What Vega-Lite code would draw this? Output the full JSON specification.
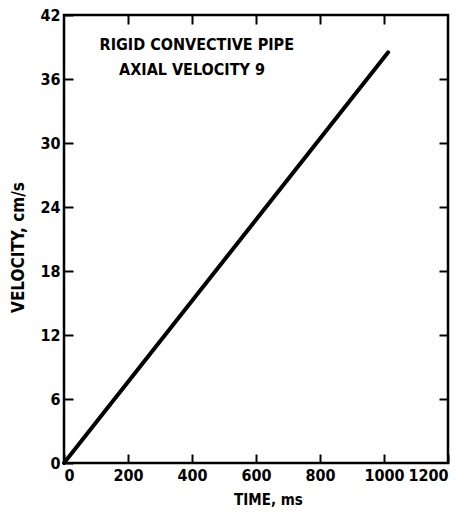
{
  "$schema": "https://vega.github.io/schema/vega-lite/v6.json",
  "width": 384,
  "height": 448,
  "autosize": {"type": "none"},
  "padding": {"left": 64, "top": 15, "right": 22, "bottom": 54},
  "background": "white",
  "config": {
    "view": {"stroke": "black", "strokeWidth": 2.5},
    "font": "DejaVu Sans Condensed",
    "axis": {
      "domain": false,
      "grid": false,
      "ticks": true,
      "tickColor": "black",
      "tickWidth": 2,
      "tickSize": 9,
      "offset": -9,
      "labelFont": "DejaVu Sans Condensed",
      "labelFontWeight": "bold",
      "labelFontSize": 16,
      "labelColor": "black",
      "titleFont": "DejaVu Sans Condensed",
      "titleFontWeight": "bold",
      "titleFontSize": 15,
      "titleColor": "black"
    }
  },
  "data": {
    "values": [
      {"time": 0, "velocity": 0},
      {"time": 1013, "velocity": 38.5}
    ]
  },
  "layer": [
    {
      "mark": {"type": "line", "color": "black", "strokeWidth": 4, "strokeCap": "round"},
      "encoding": {
        "x": {
          "field": "time", "type": "quantitative",
          "scale": {"domain": [0, 1200], "nice": false},
          "axis": {"orient": "bottom", "values": [0, 200, 400, 600, 800, 1000, 1200], "format": "d", "title": "TIME, ms", "labelPadding": 4, "titlePadding": 9, "titleX": 204}
        },
        "y": {
          "field": "velocity", "type": "quantitative",
          "scale": {"domain": [0, 42], "nice": false},
          "axis": {"orient": "left", "values": [0, 6, 12, 18, 24, 30, 36, 42], "format": "d", "title": "VELOCITY, cm/s", "titleFontSize": 17, "labelPadding": 4, "titlePadding": 12, "titleY": 232}
        }
      }
    },
    {
      "mark": {"type": "line", "opacity": 0},
      "encoding": {
        "x": {
          "field": "time", "type": "quantitative",
          "scale": {"domain": [0, 1200], "nice": false},
          "axis": {"orient": "top", "values": [200, 400, 600, 800, 1000], "labels": false, "title": null}
        },
        "y": {
          "field": "velocity", "type": "quantitative",
          "scale": {"domain": [0, 42], "nice": false},
          "axis": {"orient": "right", "values": [6, 12, 18, 24, 30, 36], "labels": false, "title": null}
        }
      }
    },
    {
      "data": {"values": [{"line": "RIGID CONVECTIVE PIPE", "t": 415, "v": 39.2}, {"line": "AXIAL VELOCITY 9", "t": 400, "v": 36.85}]},
      "mark": {"type": "text", "font": "DejaVu Sans Condensed", "fontWeight": "bold", "fontSize": 16, "align": "center", "baseline": "middle", "color": "black"},
      "encoding": {
        "x": {"field": "t", "type": "quantitative", "axis": null},
        "y": {"field": "v", "type": "quantitative", "axis": null},
        "text": {"field": "line"}
      }
    }
  ],
  "resolve": {"axis": {"x": "independent", "y": "independent"}}
}
